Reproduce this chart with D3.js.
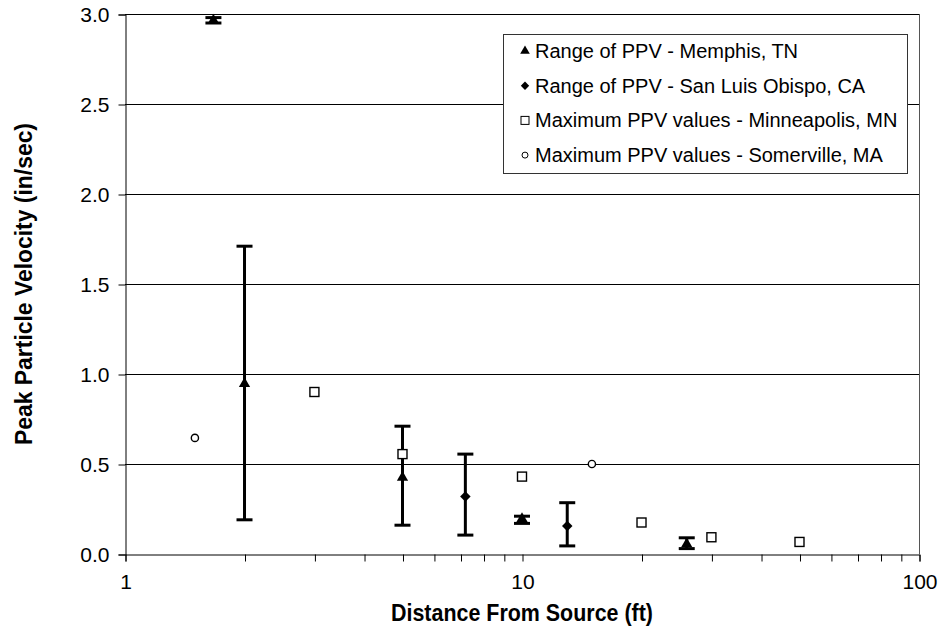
<!DOCTYPE html>
<html lang="en">
<head>
<meta charset="utf-8">
<script src="https://cdn.jsdelivr.net/npm/d3@7"></script>
<style>
  body { margin: 0; background: #fff; }
  text { font-family: "Liberation Sans", Arial, sans-serif; }
</style>
</head>
<body>
<div id="chart"></div>
<script>
// values
const memphisX  = [1.67, 2, 5, 10, 26]
const memphisY  = [2.96, 0.94, 0.42, 0.19, 0.05]
const memphisLo = [2.95, 0.19, 0.16, 0.17, 0.03]
const memphisHi = [2.98, 1.71, 0.71, 0.21, 0.09]

const sloX  = [7.2, 13]
const sloY  = [0.32, 0.155]
const sloLo = [0.105, 0.045]
const sloHi = [0.555, 0.285]

const minneX = [3, 5, 10, 20, 30, 50]
const minneY = [0.90, 0.555, 0.43, 0.175, 0.093, 0.067]

const somerX = [1.5, 15]
const somerY = [0.645, 0.5]

const yTicks = [0, 0.5, 1.0, 1.5, 2.0, 2.5, 3.0]
const xMajor = [1, 10, 100]
const legendLabels = [
  'Range of PPV - Memphis, TN',
  'Range of PPV - San Luis Obispo, CA',
  'Maximum PPV values - Minneapolis, MN',
  'Maximum PPV values - Somerville, MA'
]

const w = 941, h = 632
const padL = 125, padR = 919, padT = 14, padB = 554

let svg = d3.select('#chart').append('svg')
  .attr('width', w).attr('height', h)

let x = d3.scaleLog().domain([1, 100]).range([padL, padR])
let y = d3.scaleLinear().domain([0, 3]).range([padB, padT])

// gridlines
svg.append('g').selectAll('line')
  .data(yTicks.filter(d => d > 0))
  .enter().append('line')
  .attr('x1', padL).attr('x2', padR)
  .attr('y1', d => Math.round(y(d)) + 0.5).attr('y2', d => Math.round(y(d)) + 0.5)
  .attr('stroke', '#000').attr('stroke-width', 1)

// right border
svg.append('line')
  .attr('x1', padR + 0.5).attr('x2', padR + 0.5)
  .attr('y1', padT).attr('y2', padB)
  .attr('stroke', '#555').attr('stroke-width', 1)

// y axis
let yAxis = d3.axisLeft(y).tickValues(yTicks).tickFormat(d3.format('.1f')).tickSize(7).tickPadding(9)
let gy = svg.append('g').attr('transform', `translate(${padL + 0.5},0.5)`).call(yAxis)
gy.selectAll('text').attr('font-size', 21).attr('fill', '#000')
  .style('font-family', '"Liberation Sans", Arial, sans-serif')
gy.select('.domain').attr('stroke', '#000')

// x axis with minor ticks
let allX = []
for (let p = 1; p < 100; p *= 10) for (let k = 1; k < 10; k++) allX.push(p * k)
allX.push(100)
let xAxis = d3.axisBottom(x).tickValues(allX)
  .tickFormat(d => xMajor.includes(d) ? d : '').tickSize(7).tickPadding(13)
let gx = svg.append('g').attr('transform', `translate(0.5,${padB + 0.5})`).call(xAxis)
gx.selectAll('text').attr('font-size', 21).attr('fill', '#000')
  .style('font-family', '"Liberation Sans", Arial, sans-serif')
gx.select('.domain').attr('stroke', '#000')

// axis titles (narrow bold)
svg.append('text')
  .attr('x', (padL + padR) / 2).attr('y', 621)
  .attr('text-anchor', 'middle')
  .attr('font-size', 24).attr('font-weight', 'bold')
  .attr('textLength', 262).attr('lengthAdjust', 'spacingAndGlyphs')
  .text('Distance From Source (ft)')

svg.append('text')
  .attr('transform', `translate(32,${(padT + padB) / 2}) rotate(-90)`)
  .attr('text-anchor', 'middle')
  .attr('font-size', 24).attr('font-weight', 'bold')
  .attr('textLength', 322).attr('lengthAdjust', 'spacingAndGlyphs')
  .text('Peak Particle Velocity (in/sec)')

// error bars
function errorBars(xs, lo, hi) {
  let g = svg.append('g')
  xs.forEach(function(xv, i) {
    let cx = x(xv)
    g.append('line').attr('x1', cx).attr('x2', cx)
      .attr('y1', y(lo[i])).attr('y2', y(hi[i]))
      .attr('stroke', '#000').attr('stroke-width', 3)
    ;[lo[i], hi[i]].forEach(function(v) {
      g.append('line').attr('x1', cx - 8).attr('x2', cx + 8)
        .attr('y1', y(v)).attr('y2', y(v))
        .attr('stroke', '#000').attr('stroke-width', 3)
    })
  })
}
errorBars(memphisX, memphisLo, memphisHi)
errorBars(sloX, sloLo, sloHi)

const triSym = d3.symbol().type(d3.symbolTriangle).size(55)
const diaSym = d3.symbol().type(d3.symbolDiamond2).size(70)

svg.append('g').selectAll('path')
  .data(memphisX.map((d, i) => [d, memphisY[i]]))
  .enter().append('path')
  .attr('d', triSym)
  .attr('transform', d => `translate(${x(d[0])},${y(d[1]) - 1})`)
  .attr('fill', '#000')

svg.append('g').selectAll('path')
  .data(sloX.map((d, i) => [d, sloY[i]]))
  .enter().append('path')
  .attr('d', diaSym)
  .attr('transform', d => `translate(${x(d[0])},${y(d[1])})`)
  .attr('fill', '#000')

svg.append('g').selectAll('rect')
  .data(minneX.map((d, i) => [d, minneY[i]]))
  .enter().append('rect')
  .attr('x', d => x(d[0]) - 4.5).attr('y', d => y(d[1]) - 4.5)
  .attr('width', 9).attr('height', 9)
  .attr('fill', '#fff').attr('stroke', '#000').attr('stroke-width', 1.4)

svg.append('g').selectAll('circle')
  .data(somerX.map((d, i) => [d, somerY[i]]))
  .enter().append('circle')
  .attr('cx', d => x(d[0])).attr('cy', d => y(d[1]))
  .attr('r', 3.6)
  .attr('fill', '#fff').attr('stroke', '#000').attr('stroke-width', 1.4)

// legend
let lg = svg.append('g')
lg.append('rect')
  .attr('x', 503.5).attr('y', 34.5).attr('width', 404).attr('height', 139)
  .attr('fill', '#fff').attr('stroke', '#333').attr('stroke-width', 1)

legendLabels.forEach(function(label, i) {
  let ly = 51 + i * 34.7
  let mx = 525
  if (i === 0) {
    lg.append('path').attr('d', d3.symbol().type(d3.symbolTriangle).size(40))
      .attr('transform', `translate(${mx},${ly})`).attr('fill', '#000')
  } else if (i === 1) {
    lg.append('path').attr('d', d3.symbol().type(d3.symbolDiamond2).size(45))
      .attr('transform', `translate(${mx},${ly})`).attr('fill', '#000')
  } else if (i === 2) {
    lg.append('rect').attr('x', mx - 4).attr('y', ly - 4).attr('width', 8).attr('height', 8)
      .attr('fill', '#fff').attr('stroke', '#000').attr('stroke-width', 1)
  } else {
    lg.append('circle').attr('cx', mx).attr('cy', ly).attr('r', 3)
      .attr('fill', '#fff').attr('stroke', '#000').attr('stroke-width', 1)
  }
  lg.append('text').attr('x', 535).attr('y', ly + 7)
    .attr('font-size', 20).attr('fill', '#000')
    .text(label)
})
</script>
</body>
</html>
